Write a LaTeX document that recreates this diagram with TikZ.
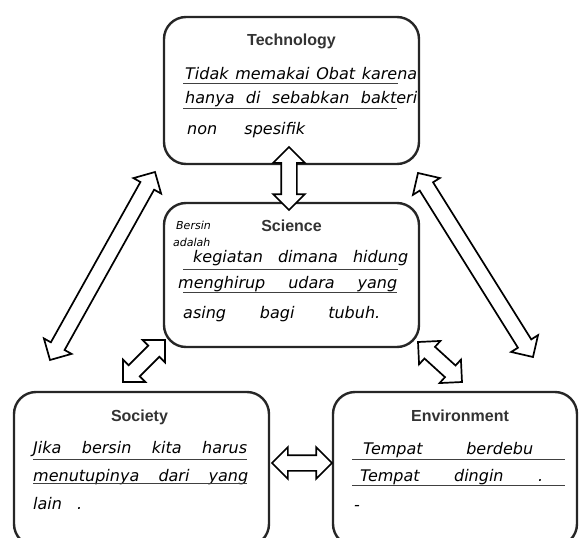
\documentclass[tikz,border=0pt]{standalone}
\usepackage{fontspec}
\setsansfont{Liberation Sans}
\newfontfamily\handfont{DejaVu Sans}
\usepackage{tikz}
\usetikzlibrary{shapes.arrows, positioning, calc}
\tikzset{
  basebox/.style={rectangle,rounded corners=22pt,draw=black!85,line width=2.4pt,fill=white},
  titlenode/.style={font=\sffamily\bfseries\fontsize{16}{18}\selectfont,inner sep=0pt,text=black!80},
  handtext/.style={font=\handfont\itshape\fontsize{16}{18}\selectfont,inner sep=0pt,anchor=base west,text=black},
  smallhand/.style={handtext,font=\handfont\itshape\fontsize{11}{13}\selectfont},
  ruleline/.style={line width=0.9pt,black!75},
  dblarr/.style={double arrow,draw=black,fill=white,line width=1.7pt,inner xsep=0pt,inner ysep=7pt,
    double arrow head extend=8pt,double arrow tip angle=90}
}
\newcommand{\spread}[2]{\makebox[#1][s]{#2}}
\newcommand{\bothway}[2]{%
  \path let \p1=($(#2)-(#1)$), \n1={veclen(\x1,\y1)} in
    (#1) -- (#2) node[midway,sloped,dblarr,minimum height=\n1] {};}

\begin{document}
\begin{tikzpicture}[x=1pt,y=-1pt]
  \useasboundingbox (0,0) rectangle (579,538);

  \node[basebox,minimum width=255pt,minimum height=147pt] (tech) at (291.5,90.5) {};
  \node[basebox,minimum width=255pt,minimum height=144pt] (sci) at (291.5,275) {};
  \node[basebox,minimum width=255pt,minimum height=154pt] (soc) at (141.5,469) {};
  \node[basebox,minimum width=244pt,minimum height=154pt] (env) at (455,469) {};

  \node[titlenode,below=18pt of tech.north] (techtitle) {Technology};
  \node[titlenode,below=18pt of sci.north] (scititle) {Science};
  \node[titlenode,below=19pt of soc.north,xshift=-2pt] (soctitle) {Society};
  \node[titlenode,below=19pt of env.north,xshift=5pt] (envtitle) {Environment};

  % handwritten answers
  \node[handtext] (tech1) at (185,79) {\spread{232pt}{Tidak memakai Obat karena}};
  \node[handtext] (tech2) at (185,103) {\spread{232pt}{hanya di sebabkan bakteri}};
  \node[handtext] (tech3) at (187,134) {\spread{118pt}{non spesifik}};
  \draw[ruleline] (183,83) -- (398,83);
  \draw[ruleline] (183,108) -- (397,108);

  \node[smallhand] (sci0) at (176,229) {Bersin};
  \node[smallhand] (sci00) at (173,246) {adalah};
  \node[handtext] (sci1) at (193,262) {\spread{215pt}{kegiatan dimana hidung}};
  \node[handtext] (sci2) at (178,288) {\spread{219pt}{menghirup udara yang}};
  \node[handtext] (sci3) at (183,318) {\spread{197pt}{asing bagi tubuh.}};
  \draw[ruleline] (183,269) -- (398,269);
  \draw[ruleline] (183,292) -- (397,292);

  \node[handtext] (soc1) at (33,453) {\spread{214pt}{Jika bersin kita harus}};
  \node[handtext] (soc2) at (33,481) {\spread{215pt}{menutupinya dari yang}};
  \node[handtext] (soc3) at (33,509) {\spread{49pt}{lain .}};
  \draw[ruleline] (33,459) -- (247,459);
  \draw[ruleline] (33,483) -- (247,483);

  \node[handtext] (env1) at (363,454) {\spread{170pt}{Tempat berdebu}};
  \node[handtext] (env2) at (360,481) {\spread{183pt}{Tempat dingin .}};
  \node[handtext] (env3) at (354,510) {-};
  \draw[ruleline] (352,459) -- (565,459);
  \draw[ruleline] (352,485) -- (565,485);

  % arrows
  \coordinate (techtip) at (289,147);
  \coordinate (scitip) at (289,210);
  \coordinate (lt1) at (155,172);
  \coordinate (lt2) at (50,360);
  \coordinate (rt1) at (418,173);
  \coordinate (rt2) at (533,357);
  \coordinate (sl1) at (165,340);
  \coordinate (sl2) at (123,382);
  \coordinate (sr1) at (418,342);
  \coordinate (sr2) at (462,382);
  \coordinate (hl) at (272,463);
  \coordinate (hr) at (332,463);

  \bothway{techtip}{scitip}
  \bothway{lt1}{lt2}
  \bothway{rt1}{rt2}
  \bothway{sl1}{sl2}
  \bothway{sr1}{sr2}
  \bothway{hl}{hr}
\end{tikzpicture}
\end{document}
